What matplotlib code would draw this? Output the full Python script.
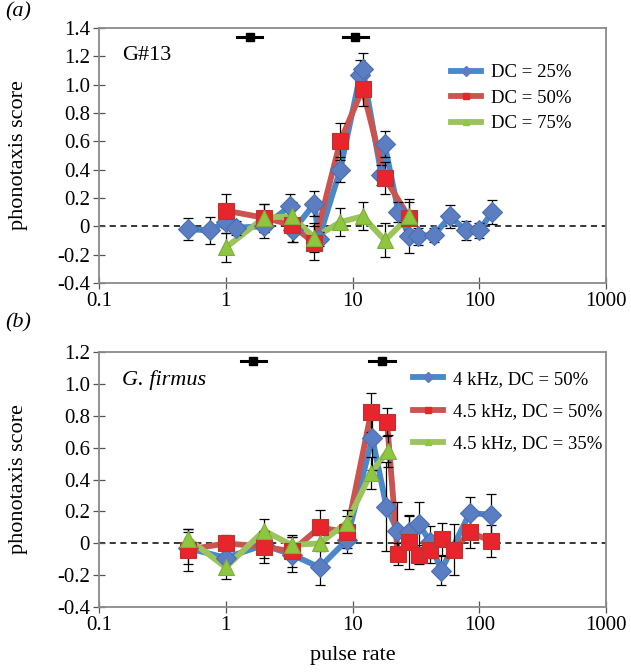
import matplotlib
matplotlib.use('Agg')
import matplotlib.pyplot as plt
from matplotlib.lines import Line2D

plt.rcParams['font.family'] = ['Liberation Serif', 'DejaVu Serif']

# panel (a): G#13
a_blue_x = [0.5, 0.75, 1.0, 1.2, 2.0, 3.2, 3.4, 5.0, 5.4, 8.0, 11.5, 12.0, 16.9, 17.9, 23.0, 28.0, 33.0, 44.0, 59.0, 78.0, 100.0, 126.0]
a_blue_y = [-0.02, -0.03, 0.03, -0.01, 0.0, 0.14, -0.03, 0.16, -0.09, 0.40, 1.07, 1.11, 0.36, 0.58, 0.10, -0.07, -0.07, -0.06, 0.07, -0.03, -0.03, 0.10]
a_blue_e = [0.08, 0.095, 0.08, 0.05, 0.08, 0.09, 0.08, 0.09, 0.05, 0.09, 0.10, 0.11, 0.07, 0.09, 0.07, 0.12, 0.06, 0.05, 0.08, 0.07, 0.05, 0.085]
a_red_x = [1.0, 2.0, 3.3, 5.0, 8.0, 12.0, 18.0, 28.0]
a_red_y = [0.11, 0.06, 0.01, -0.12, 0.60, 0.97, 0.34, 0.06]
a_red_e = [0.12, 0.10, 0.12, 0.12, 0.13, 0.12, 0.11, 0.13]
a_green_x = [1.0, 2.0, 3.3, 5.0, 8.0, 12.0, 18.0, 28.0]
a_green_y = [-0.15, 0.06, 0.07, -0.08, 0.03, 0.07, -0.10, 0.07]
a_green_e = [0.10, 0.10, 0.10, 0.10, 0.10, 0.10, 0.12, 0.10]
a_pref_x = [1.54, 10.5]
a_pref_lo = [1.22, 8.4]
a_pref_hi = [1.93, 13.3]
a_pref_y = 1.335
a_labels = ['DC = 25%', 'DC = 50%', 'DC = 75%']

# panel (b): G. firmus
b_blue_x = [0.5, 1.0, 2.0, 3.3, 5.5, 9.0, 14.3, 18.5, 22.5, 27.8, 33.3, 41.0, 50.0, 84.0, 124.0]
b_blue_y = [-0.03, -0.09, -0.01, -0.07, -0.15, 0.02, 0.66, 0.23, 0.08, 0.07, 0.12, 0.01, -0.17, 0.19, 0.18]
b_blue_e = [0.10, 0.10, 0.08, 0.11, 0.11, 0.08, 0.20, 0.28, 0.18, 0.10, 0.14, 0.10, 0.09, 0.10, 0.13]
b_red_x = [0.5, 1.0, 2.0, 3.3, 5.5, 9.0, 14.0, 18.7, 22.7, 28.0, 33.3, 41.0, 51.0, 63.0, 84.0, 124.0]
b_red_y = [-0.04, 0.0, -0.02, -0.05, 0.10, 0.07, 0.82, 0.76, -0.065, 0.01, -0.07, -0.04, 0.025, -0.04, 0.07, 0.015]
b_red_e = [0.13, 0.05, 0.10, 0.10, 0.11, 0.10, 0.12, 0.09, 0.07, 0.17, 0.06, 0.08, 0.10, 0.16, 0.10, 0.10]
b_green_x = [0.5, 1.0, 2.0, 3.3, 5.5, 9.0, 14.0, 19.0]
b_green_y = [0.03, -0.15, 0.08, -0.01, 0.0, 0.13, 0.44, 0.58]
b_green_e = [0.06, 0.07, 0.07, 0.05, 0.05, 0.08, 0.10, 0.10]
b_pref_x = [1.63, 17.1]
b_pref_lo = [1.32, 13.6]
b_pref_hi = [2.07, 21.5]
b_pref_y = 1.143
b_labels = ['4 kHz, DC = 50%', '4.5 kHz, DC = 50%', '4.5 kHz, DC = 35%']

BLUE = dict(line='#4a88cc', face='#5b7ec2', edge='#4a6fb0', marker='D', ms=10.5)
RED = dict(line='#cc5450', face='#e8242c', edge='#b8362f', marker='s', ms=11.5)
GREEN = dict(line='#9cc45c', face='#8ec63f', edge='#7fae3a', marker='^', ms=11.5)


def draw_series(ax, x, y, e, st):
    ax.plot(x, y, color=st['line'], lw=4.2, solid_joinstyle='round', zorder=2)
    ax.errorbar(x, y, yerr=e, fmt='none', ecolor='black', elinewidth=0.9,
                capsize=3.5, capthick=0.9, zorder=3)
    ax.plot(x, y, ls='none', marker=st['marker'], ms=st['ms'],
            mfc=st['face'], mec=st['edge'], mew=0.8, zorder=4)


def panel(rect, ylim, yticks, series, pref, labels, letter, letter_y, name, name_style,
          leg_anchor, leg_space):
    ax = fig.add_axes(rect)
    ax.set_xscale('log')
    ax.set_xlim(0.1, 1000)
    ax.set_ylim(*ylim)
    ax.set_xticks([0.1, 1, 10, 100, 1000])
    ax.set_xticklabels(['0.1', '1', '10', '100', '1000'])
    ax.minorticks_off()
    ax.set_yticks(yticks)
    ax.set_yticklabels(['0' if abs(t) < 1e-9 else f'{t:.1f}' for t in yticks])
    ax.tick_params(direction='inout', length=9, width=0.9, color='#555555',
                   labelsize=15, pad=2)
    for s in ax.spines.values():
        s.set_color('#8a8a8a')
        s.set_linewidth(1.3)
    ax.axhline(0, color='black', ls=(0, (4, 3)), lw=1.1, zorder=1)
    styles = [BLUE, RED, GREEN]
    for (x, y, e), st in zip(series, styles):
        draw_series(ax, x, y, e, st)
    px, lo, hi, py = pref
    for xc, l, h in zip(px, lo, hi):
        ax.plot([l, h], [py, py], color='black', lw=2.2, zorder=5)
        ax.plot([xc], [py], marker='s', color='black', ms=6, zorder=6)
    ax.set_ylabel('phonotaxis score', fontsize=16, labelpad=21)
    handles = [Line2D([], [], color=st['line'], lw=4.2, marker=st['marker'],
                      ms=5, mfc=st['face'], mec=st['face']) for st in styles]
    ax.legend(handles, labels, loc='upper left', bbox_to_anchor=leg_anchor,
              frameon=False, fontsize=13.5, handlelength=1.6, handletextpad=0.5,
              labelspacing=leg_space, borderaxespad=0, borderpad=0)
    ax.text(0.045, 0.93, name, transform=ax.transAxes, fontsize=16,
            style=name_style, va='top', ha='left')
    fig.text(0.008, letter_y, letter, fontsize=16, style='italic',
             va='center', ha='left')
    return ax


fig = plt.figure(figsize=(6.31, 6.72), dpi=100)

panel([0.157, 0.579, 0.8035, 0.3795], (-0.4, 1.4),
      [-0.4, -0.2, 0, 0.2, 0.4, 0.6, 0.8, 1.0, 1.2, 1.4],
      [(a_blue_x, a_blue_y, a_blue_e), (a_red_x, a_red_y, a_red_e), (a_green_x, a_green_y, a_green_e)],
      (a_pref_x, a_pref_lo, a_pref_hi, a_pref_y), a_labels, '(a)', 0.982, 'G#13', 'normal',
      (0.695, 0.858), 0.45)

axb = panel([0.157, 0.0963, 0.8035, 0.3803], (-0.4, 1.2),
            [-0.4, -0.2, 0, 0.2, 0.4, 0.6, 0.8, 1.0, 1.2],
            [(b_blue_x, b_blue_y, b_blue_e), (b_red_x, b_red_y, b_red_e), (b_green_x, b_green_y, b_green_e)],
            (b_pref_x, b_pref_lo, b_pref_hi, b_pref_y), b_labels, '(b)', 0.520, 'G. firmus', 'italic',
            (0.62, 0.925), 0.8)
axb.set_xlabel('pulse rate', fontsize=16, labelpad=8)

fig.savefig('out.png', dpi=100)
